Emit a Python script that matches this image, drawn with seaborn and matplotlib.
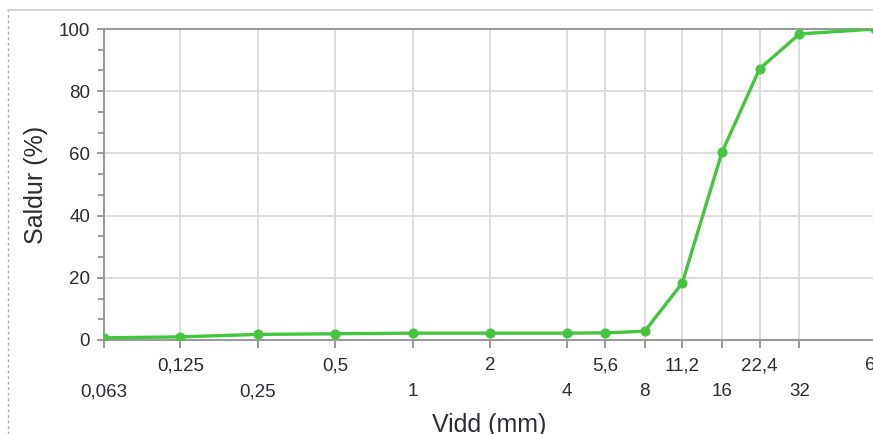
import matplotlib
matplotlib.use("Agg")
import matplotlib.pyplot as plt
import matplotlib.ticker as mticker
from matplotlib.lines import Line2D
import pandas as pd
import seaborn as sns

# Sikti: vidd (mm) og saldur (%)
vidd = [0.063, 0.125, 0.25, 0.5, 1, 2, 4, 5.6, 8, 11.2, 16, 22.4, 32, 63]
saldur = [0.7, 1.0, 1.8, 2.0, 2.2, 2.2, 2.2, 2.3, 2.8, 18.3, 60.4, 87.2, 98.4, 100]

# tvær raðir af merkjum á x-ás
efri_rod = [0.125, 0.5, 2, 5.6, 11.2, 22.4, 63]
efri_heiti = ["0,125", "0,5", "2", "5,6", "11,2", "22,4", "63"]
nedri_rod = [0.063, 0.25, 1, 4, 8, 16, 32]
nedri_heiti = ["0,063", "0,25", "1", "4", "8", "16", "32"]

sns.set_style("white")
plt.rcParams["font.family"] = ["Liberation Sans", "DejaVu Sans"]

df = pd.DataFrame({"Vidd": vidd, "Saldur": saldur})

fig = plt.figure(figsize=(8.73, 4.34), dpi=100)
ax = fig.add_axes([104 / 873, 94 / 434, 771 / 873, 311 / 434])

sns.lineplot(data=df, x="Vidd", y="Saldur", ax=ax, color="#45c43f",
             linewidth=2.4, marker="o", markersize=6.5,
             markeredgecolor="#45c43f", zorder=3)

ax.set_xscale("log")
ax.set_xlim(0.063, 63)
ax.set_ylim(0, 100)

ax.xaxis.set_major_locator(mticker.FixedLocator(efri_rod))
ax.xaxis.set_major_formatter(mticker.FixedFormatter(efri_heiti))
ax.xaxis.set_minor_locator(mticker.FixedLocator(nedri_rod))
ax.xaxis.set_minor_formatter(mticker.FixedFormatter(nedri_heiti))

ax.yaxis.set_major_locator(mticker.MultipleLocator(20))
ax.yaxis.set_minor_locator(mticker.AutoMinorLocator(3))

tekst = "#2b2b35"
ax.tick_params(axis="x", which="major", length=6, width=1.2, color="#888888",
               pad=6.5, labelsize=13.5, labelcolor=tekst, direction="out")
ax.tick_params(axis="x", which="minor", length=6, width=1.2, color="#888888",
               pad=25, labelsize=13.5, labelcolor=tekst, direction="out")
ax.tick_params(axis="y", which="major", length=5, width=1.2, color="#888888",
               pad=5, labelsize=13.5, labelcolor=tekst, direction="out")
ax.tick_params(axis="y", which="minor", length=4, width=1.2, color="#888888",
               direction="out")
ax.tick_params(left=True, bottom=True, which="both")

ax.grid(True, which="both", axis="x", color="#dadada", linewidth=1.3)
ax.grid(True, which="major", axis="y", color="#dadada", linewidth=1.3)
ax.set_axisbelow(True)

for side in ["left", "bottom", "top"]:
    ax.spines[side].set_color("#9a9a9a")
    ax.spines[side].set_linewidth(1.5)
ax.spines["right"].set_visible(False)

ax.set_xlabel("Vidd (mm)", fontsize=18, color=tekst, labelpad=9)
ax.set_ylabel("Saldur (%)", fontsize=18, color=tekst, labelpad=8)

# rammi utan um myndina
fig.add_artist(Line2D([8 / 873, 8 / 873], [0, 1 - 10 / 434],
                      transform=fig.transFigure, color="#aaaaaa",
                      linestyle=(0, (2, 2)), linewidth=1))
fig.add_artist(Line2D([8 / 873, 1], [1 - 10 / 434, 1 - 10 / 434],
                      transform=fig.transFigure, color="#d4d4d4", linewidth=1.5))

fig.savefig("out.png", dpi=100, facecolor="white")
